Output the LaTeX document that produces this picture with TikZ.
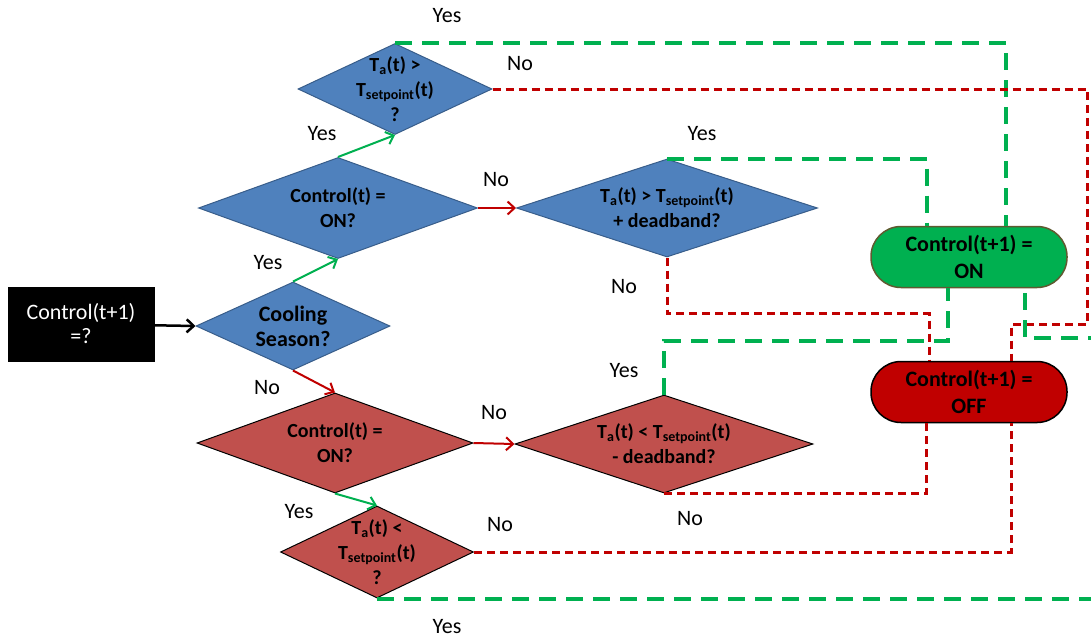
\documentclass[tikz,border=0pt]{standalone}
\usepackage{fontspec}
\setmainfont{Carlito}
\usetikzlibrary{shapes.geometric,arrows.meta}

\definecolor{dblue}{HTML}{4F81BD}
\definecolor{dblueline}{HTML}{385D8A}
\definecolor{dred}{HTML}{C0504D}
\definecolor{lgreen}{HTML}{00B050}
\definecolor{lred}{HTML}{C00000}
\definecolor{online}{HTML}{5F5A30}

\tikzset{
  dia/.style={diamond, draw, inner sep=0pt, line width=1pt},
  bluedia/.style={dia, fill=dblue, draw=dblueline},
  reddia/.style={dia, fill=dred, draw=black},
  dtext/.style={font=\bfseries\fontsize{20}{25}\selectfont, align=center},
  term/.style={draw, rounded corners=30pt, minimum width=196pt, minimum height=61pt,
    line width=1.5pt, font=\bfseries\fontsize{22}{27}\selectfont, align=center},
  lbl/.style={font=\fontsize{22}{24}\selectfont},
  yesarr/.style={draw=lgreen, line width=2pt, ->},
  noarr/.style={draw=lred, line width=2pt, ->},
  yesdash/.style={draw=lgreen, line width=4pt, dash pattern=on 17pt off 10pt},
  nodash/.style={draw=lred, line width=3pt, dash pattern=on 8pt off 5pt},
}

\begin{document}
\begin{tikzpicture}[x=1pt, y=-1pt, >={Straight Barb[length=7pt,width=13pt]}]
\clip (0,0) rectangle (1091,638);

% start box and first question
\node[fill=black, text=white, minimum width=147pt, minimum height=75pt, align=center,
  font=\fontsize{22}{24}\selectfont] (start) at (81,324) {Control(t+1)\\=?};
\node[bluedia, minimum width=194pt, minimum height=88pt,
  label={[dtext, font=\bfseries\fontsize{22}{25}\selectfont]center:Cooling\\Season?}] (cool) at (293,326) {};

% cooling branch
\node[bluedia, minimum width=279pt, minimum height=101pt,
  label={[dtext]center:Control(t) =\\ON?}] (onq) at (338,208) {};
\node[bluedia, minimum width=194pt, minimum height=91pt,
  label={[dtext]center:T\textsubscript{a}(t) >\\T\textsubscript{setpoint}(t)\\?}] (hot) at (395,89) {};
\node[bluedia, minimum width=301pt, minimum height=98pt,
  label={[dtext]center:T\textsubscript{a}(t) > T\textsubscript{setpoint}(t)\\+ deadband?}] (hotdb) at (667,208) {};

% heating branch
\node[reddia, minimum width=276pt, minimum height=100pt,
  label={[dtext]center:Control(t) =\\ON?}] (offq) at (335,443) {};
\node[reddia, minimum width=298pt, minimum height=98pt,
  label={[dtext]center:T\textsubscript{a}(t) < T\textsubscript{setpoint}(t)\\- deadband?}] (colddb) at (664,444) {};
\node[reddia, minimum width=193pt, minimum height=92pt,
  label={[dtext]center:T\textsubscript{a}(t) <\\T\textsubscript{setpoint}(t)\\?}] (cold) at (377,552) {};

% results
\node[term, fill=lgreen, draw=online] (on) at (969,257) {Control(t+1) =\\ON};
\node[term, fill=lred, draw=black] (off) at (969,392) {Control(t+1) =\\OFF};

% dashed connectors to the results
\draw[yesdash] (hot.north) -| ([xshift=37pt]on.north);
\draw[nodash] (hot.east) -| ++(595,235) -| ([xshift=42pt]off.north);
\draw[yesdash] (hotdb.north) -| ([xshift=-42pt]on.north);
\draw[nodash] (hotdb.south) -- ++(0,56) -| ([xshift=-40pt]off.north);
\draw[yesdash] (colddb.north) -- ++(0,-54) -| ([xshift=-21pt]on.south);
\draw[nodash] (colddb.south) -| ([xshift=-43pt]off.south);
\draw[nodash] (cold.east) -| ([xshift=42pt]off.south);
\draw[yesdash] (cold.south) -| ++(733,-261) -| ([xshift=56pt]on.south);

% arrows between questions
\draw[->, line width=2.5pt] (start) -- (cool.west);
\draw[yesarr] (cool.north) -- (onq.south);
\draw[yesarr] (onq.north) -- (hot.south);
\draw[noarr] (onq.east) -- (hotdb.west);
\draw[noarr] (cool.south) -- (offq.north);
\draw[noarr] (offq.east) -- (colddb.west);
\draw[yesarr] (offq.south) -- (cold.north);

% branch labels
\node[lbl] (yes1) at (447,16) {Yes};
\node[lbl] (no1) at (520,64) {No};
\node[lbl] (yes2) at (322,134) {Yes};
\node[lbl] (yes3) at (702,134) {Yes};
\node[lbl] (no2) at (496,180) {No};
\node[lbl] (yes4) at (268,263) {Yes};
\node[lbl] (no3) at (624,287) {No};
\node[lbl] (yes5) at (624,371) {Yes};
\node[lbl] (no4) at (267,388) {No};
\node[lbl] (no5) at (494,413) {No};
\node[lbl] (yes6) at (299,512) {Yes};
\node[lbl] (no6) at (500,525) {No};
\node[lbl] (no7) at (690,519) {No};
\node[lbl] (yes7) at (447,627) {Yes};
\end{tikzpicture}
\end{document}
